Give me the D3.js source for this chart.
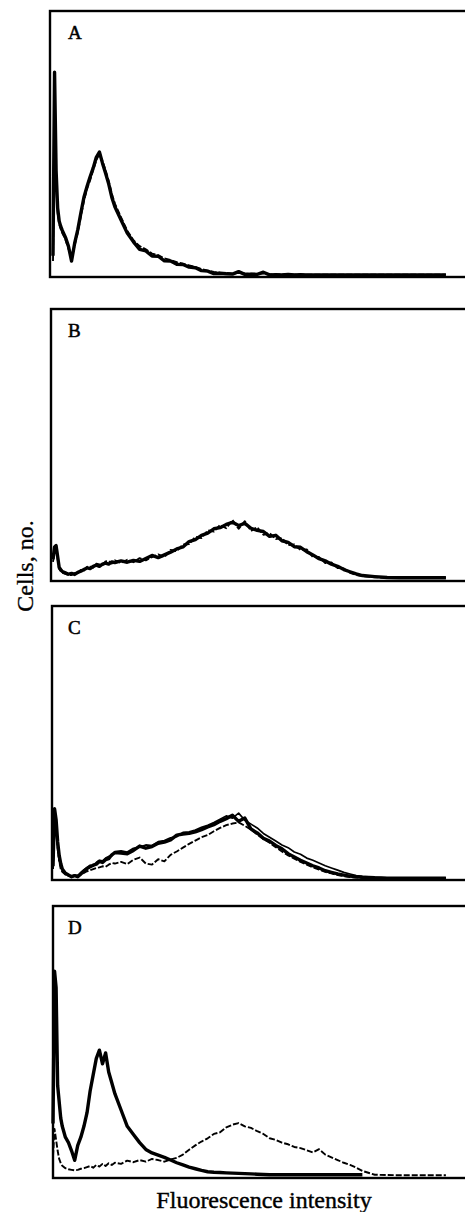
<!DOCTYPE html>
<html>
<head>
<meta charset="utf-8">
<script src="https://cdn.jsdelivr.net/npm/d3@7/dist/d3.min.js"></script>
<style>
  body { margin: 0; background: #fff; }
  svg { display: block; }
</style>
</head>
<body>
<svg id="chart" width="465" height="1212"></svg>
<script>
// Каналы гистограммы (ось X, 0..255)
const channels = [
  0, 1, 2, 3, 4, 5, 6,
  8, 10, 12, 14, 16, 18, 20, 22, 24, 26, 28, 30, 32, 34, 36, 38, 40,
  44, 48, 52, 56, 60, 64, 68, 72, 76, 80, 84, 88, 92, 96, 100, 104, 108, 112, 116, 120,
  124, 128, 132, 136, 140, 144, 148, 152, 156, 160, 164, 168, 172, 176, 180, 184, 188, 192, 196, 200,
  208, 216, 224, 232, 240, 248, 254
];

const panelLabels = ['A', 'B', 'C', 'D'];
const yTitle = 'Cells, no.';
const xTitle = 'Fluorescence intensity';

// Панель A
const aSolid = [
  8, 77, 40, 26, 21, 19, 17.5,
  15, 11.5, 6, 12.7, 17.7, 24, 30, 34, 37.7, 41, 45, 47, 42.8, 39, 35, 30, 26.4,
  21.4, 16.5, 13.2, 10.4, 9.8, 7.9, 7.8, 6.1, 6.0, 4.8, 4.7, 3.7, 3.5, 2.4, 2.2, 1.3, 1.4, 1.2, 1.1, 2,
  1, 1.1, 1, 1.8, 0.8, 0.9, 0.8, 1, 0.8, 0.9, 0.8, 0.8, 0.8, 0.8, 0.8, 0.8, 0.8, 0.8, 0.8, 0.8,
  0.8, 0.8, 0.8, 0.8, 0.8, 0.8, 0.8
];
const aDashed = [
  6, 70, 36, 24, 20, 18, 16.5,
  14.2, 10.6, 7.4, 11.8, 16.6, 22.8, 28.6, 33.2, 36.4, 40.2, 44, 46.2, 43.6, 40, 36.2, 31.4, 27.6,
  22.4, 17.4, 13.8, 11.6, 10.4, 8.8, 8.2, 7, 6.4, 5.6, 5, 4.4, 3.8, 3, 2.4, 1.9, 1.6, 1.5, 1.3, 1.6,
  1.3, 1.2, 1.1, 1.4, 1, 1, 1, 1, 0.9, 0.9, 0.9, 0.9, 0.9, 0.9, 0.9, 0.9, 0.9, 0.9, 0.9, 0.9,
  0.9, 0.9, 0.9, 0.9, 0.9, 0.9, 0.9
];

// Панель B
const bSolid = [
  8, 12.5, 13, 9, 5, 4.2, 3.5,
  3, 2.5, 2.8, 2.4, 3.2, 3.6, 4.2, 4.8, 4.6, 5.4, 5.8, 5.4, 6.2, 6.6, 6.2, 7, 6.8,
  7.4, 6.9, 7.6, 7.2, 8.3, 9.4, 8.6, 9.6, 10.6, 11.8, 12.5, 14.5, 15.2, 16.8, 17.6, 19.2, 19.6, 20.8, 21.6, 20.4,
  21.2, 19.4, 18.6, 18.2, 16.4, 16.8, 14.8, 14.2, 12.6, 12.4, 10.8, 9.6, 8.2, 7.4, 6.2, 5.4, 4.2, 3.4, 2.6, 2.0,
  1.6, 1.3, 1.2, 1.2, 1.2, 1.2, 1.2
];
const bDashed = [
  7, 11, 12, 8, 4.4, 3.6, 3,
  2.6, 2.2, 2.2, 2.9, 2.8, 4.1, 3.8, 5.2, 5.3, 4.9, 6.4, 6.1, 5.6, 7.2, 7.3, 6.4, 7.6,
  6.6, 7.8, 6.9, 8.4, 7.6, 8.8, 9.8, 8.8, 11.4, 11, 13.4, 13.6, 16.2, 15.8, 18.6, 18.2, 20.6, 19.4, 22.4, 19.2,
  22, 18.4, 19.8, 17, 17.6, 15.4, 15.8, 13.2, 13.4, 11.4, 11.6, 8.8, 8.8, 6.6, 6.8, 4.8, 4.6, 3, 2.2, 1.8,
  1.4, 1.2, 1.2, 1.2, 1.2, 1.2, 1.2
];

// Панель C
const cSolid = [
  5, 26, 22, 14, 9, 6, 4,
  2.5, 1.8, 1.2, 1.6, 1.2, 2.2, 3.2, 4.2, 4.8, 5.4, 5.8, 6.8, 6.4, 7.4, 7.8, 9.2, 10,
  9.8, 9.6, 10.8, 12.4, 11.6, 12.2, 13.4, 13.8, 14.6, 16.4, 16.8, 17, 17.6, 18.4, 19.4, 20.2, 21.4, 22.4, 23.6, 21.4,
  22.6, 18.6, 17.2, 15.2, 14.2, 12.6, 11.4, 9.6, 8.4, 7.2, 6.2, 5.2, 4.4, 3.4, 2.8, 2.2, 1.8, 1.4, 1.2, 1.0,
  0.8, 0.7, 0.7, 0.7, 0.7, 0.7, 0.7
];
const cThin = [
  4, 20, 18, 11, 7, 5, 3.5,
  2.2, 1.6, 1.4, 1.8, 1.6, 2.8, 3.8, 4.6, 5.4, 5, 6.4, 7.2, 7, 8, 8.6, 8.8, 10.4,
  10.6, 10.2, 11.6, 12, 12.8, 12.6, 14, 14.4, 15.4, 15.8, 17.4, 17.6, 18.2, 19.2, 20, 21, 22.2, 23.4, 22.6, 24.4,
  21.8, 20.4, 19, 17, 15.6, 14.2, 12.8, 11.8, 10.2, 9.4, 8, 7.2, 6.2, 5.2, 4.4, 3.6, 2.8, 2.2, 1.6, 1.3,
  1, 0.8, 0.8, 0.8, 0.8, 0.8, 0.8
];
const cDashed = [
  4, 24, 20, 12, 7, 4, 3,
  2, 1.5, 1.4, 1.2, 1.6, 2, 2.6, 3.2, 3.6, 4, 4.4, 4.6, 5, 4.8, 5.6, 6.2, 6,
  6.6, 5.8, 7.4, 8.2, 6, 5.6, 7.6, 6.8, 9.2, 10.4, 11.8, 13.2, 14.4, 15.6, 16.4, 17.8, 19, 20, 20.6, 21,
  19.8, 18.4, 16.6, 15, 13.6, 12, 10.4, 9, 7.8, 6.6, 5.6, 4.6, 3.8, 3, 2.4, 1.8, 1.4, 1.1, 0.9, 0.8,
  0.7, 0.7, 0.7, 0.7, 0.7, 0.7, 0.7
];

// Панель D
const dSolid = [
  20, 76, 70, 34, 28, 22, 19,
  15, 13, 10, 6.5, 12, 15, 19, 24, 32, 38, 44, 47, 42, 46, 39, 35, 31,
  25, 19, 16, 13, 10.5, 9.2, 8.4, 7.6, 6.6, 5.6, 4.8, 4.0, 3.4, 2.8, 2.3, 2.1, 2.0, 1.9, 1.8, 1.7,
  1.6, 1.5, 1.4, 1.3, 1.2, 1.2, 1.2, 1.2, 1.2, 1.2, 1.2, 1.2, 1.2, 1.2, 1.2, 1.2, 1.2, 1.2, 1.2, 1.2,
  null, null, null, null, null, null, null
];
const dDashed = [
  8, 18, 14, 10, 7, 5.5, 4.5,
  3.6, 3.2, 3, 2.8, 3, 3.4, 3.6, 4, 4.4, 3.8, 4.8, 4.2, 5.2, 4.4, 5.4, 4.8, 5.6,
  5.2, 6.4, 5.8, 6.6, 6, 7, 6.6, 6, 6.8, 7.4, 8.6, 10.4, 12, 13.4, 14.6, 16.2, 16.8, 18.6, 19.6, 20.2,
  19, 18.4, 17.2, 16.2, 14.6, 14, 13, 12.4, 11.4, 11, 10.2, 9.4, 10.6, 8.6, 7.6, 6.6, 5.6, 4.8, 3.8, 2.6,
  1.2, 1.1, 1, 1, 1, 1, 1
];

const svg = d3.select('#chart');
const serif = '"Liberation Serif", "Times New Roman", serif';

// Рамки панелей (правый край уходит за край картинки)
const frames = [
  { top: 11, bottom: 277, left: 50 },
  { top: 309, bottom: 581, left: 51 },
  { top: 606, bottom: 880, left: 52 },
  { top: 906, bottom: 1178, left: 53 }
];

// Какие кривые в какой панели
const panelSeries = [
  [{ v: aDashed, kind: 'dashed' }, { v: aSolid, kind: 'thick' }],
  [{ v: bDashed, kind: 'dashed' }, { v: bSolid, kind: 'thick' }],
  [{ v: cDashed, kind: 'dashed' }, { v: cThin, kind: 'thin' }, { v: cSolid, kind: 'thick' }],
  [{ v: dDashed, kind: 'dashed' }, { v: dSolid, kind: 'thick' }]
];

const lineStyle = {
  thick: { w: 3.4, dash: null },
  thin: { w: 1.7, dash: null },
  dashed: { w: 1.9, dash: '6,2' }
};

const x = d3.scaleLinear().domain([0, 256]).range([53, 449]);

frames.forEach((f, i) => {
  const y = d3.scaleLinear().domain([0, 100]).range([f.bottom, f.top]);
  const g = svg.append('g');

  g.append('rect')
    .attr('x', f.left)
    .attr('y', f.top)
    .attr('width', 480 - f.left)
    .attr('height', f.bottom - f.top)
    .attr('fill', 'none')
    .attr('stroke', '#000')
    .attr('stroke-width', 2.4);

  const line = d3.line()
    .defined(d => d[1] != null)
    .x(d => x(d[0]))
    .y(d => y(d[1]));

  panelSeries[i].forEach(s => {
    const st = lineStyle[s.kind];
    g.append('path')
      .datum(channels.map((c, k) => [c, s.v[k]]))
      .attr('d', line)
      .attr('fill', 'none')
      .attr('stroke', '#000')
      .attr('stroke-width', st.w)
      .attr('stroke-linejoin', 'round')
      .attr('stroke-dasharray', st.dash);
  });

  g.append('text')
    .attr('x', 68)
    .attr('y', f.top + 28)
    .attr('font-family', serif)
    .attr('font-size', 19)
    .attr('stroke', '#000')
    .attr('stroke-width', 0.5)
    .text(panelLabels[i]);
});

// Подписи осей
svg.append('text')
  .attr('transform', 'translate(33,566) rotate(-90)')
  .attr('text-anchor', 'middle')
  .attr('font-family', serif)
  .attr('font-size', 24)
  .attr('stroke', '#000')
  .attr('stroke-width', 0.3)
  .text(yTitle);

svg.append('text')
  .attr('x', 264)
  .attr('y', 1208)
  .attr('text-anchor', 'middle')
  .attr('font-family', serif)
  .attr('font-size', 24)
  .attr('stroke', '#000')
  .attr('stroke-width', 0.4)
  .text(xTitle);
</script>
</body>
</html>
